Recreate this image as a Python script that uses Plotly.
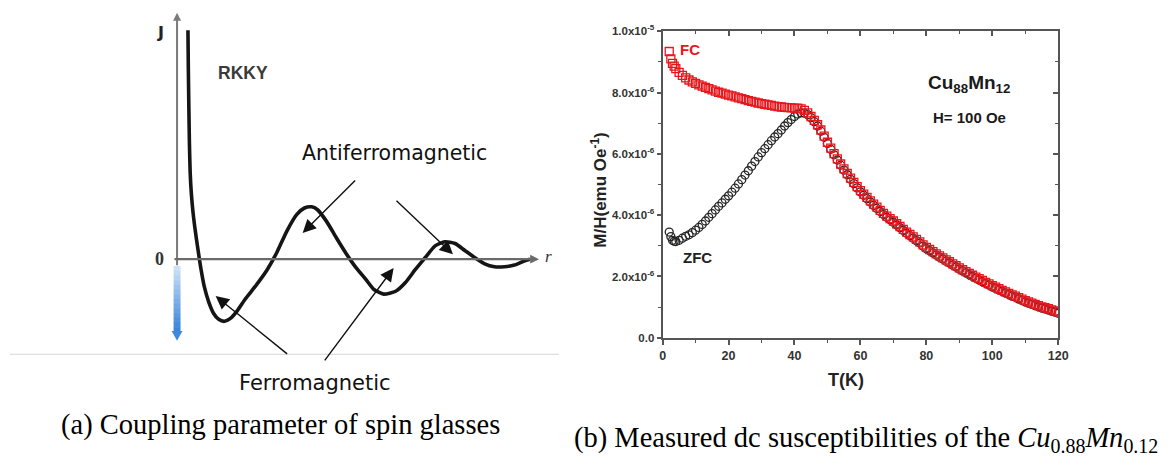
import plotly.graph_objects as go

# ---------------- data ----------------
# (a) schematic RKKY coupling J(r), arbitrary units
r_vals = [0.301, 0.311, 0.325, 0.342, 0.363, 0.396, 0.445, 0.505, 0.574, 0.656, 0.751, 0.874,
          1.011, 1.148, 1.311, 1.475, 1.667, 1.885, 2.16, 2.49, 2.76, 3.03, 3.31, 3.52, 3.72,
          3.88, 4.13, 4.40, 4.67, 4.95, 5.22, 5.44, 5.71, 6.04, 6.31, 6.58, 6.86, 7.13, 7.40,
          7.68, 7.95, 8.22, 8.50, 8.77, 9.04, 9.32, 9.59, 9.75]
j_vals = [3.933, 3.317, 2.650, 1.983, 1.483, 1.117, 0.783, 0.483, 0.183, -0.150, -0.467, -0.733,
          -0.933, -1.033, -1.067, -1.017, -0.883, -0.683, -0.467, -0.18, 0.12, 0.48, 0.77, 0.88,
          0.90, 0.85, 0.65, 0.37, 0.10, -0.15, -0.35, -0.52, -0.60, -0.55, -0.40, -0.18, 0.03,
          0.23, 0.30, 0.27, 0.15, 0.03, -0.08, -0.13, -0.13, -0.10, -0.03, 0.00]

# (b) dc susceptibility M/H of Cu88Mn12, in units of 1e-6 emu/Oe
temp_k = [2, 2.5, 3, 3.5, 4, 5, 6, 7, 8, 9, 10, 11, 12, 13, 14, 15, 16, 17, 18, 19, 20, 21, 22,
          23, 24, 25, 26, 27, 28, 29, 30, 31, 32, 33, 34, 35, 36, 37, 38, 39, 40, 41, 42, 43,
          44, 45, 46, 47, 48, 49, 50, 51, 52, 53, 54, 55, 56, 57, 58, 59, 60, 61, 62, 63, 64,
          65, 66, 67, 68, 69, 70, 71, 72, 73, 74, 75, 76, 77, 78, 79, 80, 81, 82, 83, 84, 85,
          86, 87, 88, 89, 90, 91, 92, 93, 94, 95, 96, 97, 98, 99, 100, 101, 102, 103, 104, 105,
          106, 107, 108, 109, 110, 111, 112, 113, 114, 115, 116, 117, 118, 119, 120]
fc = [9.34, 9.10, 8.95, 8.86, 8.78, 8.66, 8.56, 8.48, 8.41, 8.35, 8.30, 8.25, 8.21, 8.17,
      8.13, 8.09, 8.05, 8.01, 7.98, 7.95, 7.92, 7.89, 7.86, 7.83, 7.80, 7.77, 7.74, 7.71,
      7.69, 7.66, 7.64, 7.62, 7.60, 7.58, 7.56, 7.54, 7.53, 7.52, 7.51, 7.50, 7.49, 7.49,
      7.47, 7.42, 7.34, 7.22, 7.09, 6.95, 6.78, 6.58, 6.38, 6.19, 6.01, 5.84, 5.67, 5.51,
      5.36, 5.21, 5.07, 4.93, 4.80, 4.69, 4.58, 4.47, 4.36, 4.26, 4.16, 4.06, 3.97, 3.89,
      3.81, 3.72, 3.63, 3.54, 3.45, 3.37, 3.29, 3.21, 3.13, 3.03, 2.95, 2.88, 2.81, 2.74,
      2.67, 2.61, 2.54, 2.48, 2.41, 2.35, 2.28, 2.22, 2.16, 2.10, 2.04, 1.98, 1.93, 1.87,
      1.81, 1.76, 1.70, 1.65, 1.60, 1.55, 1.50, 1.45, 1.40, 1.36, 1.31, 1.26, 1.21, 1.17,
      1.13, 1.09, 1.05, 1.01, 0.98, 0.95, 0.91, 0.88, 0.84]
zfc = [3.45, 3.30, 3.18, 3.15, 3.14, 3.18, 3.25, 3.31, 3.36, 3.43, 3.51, 3.60, 3.70, 3.81,
       3.93, 4.05, 4.17, 4.29, 4.40, 4.52, 4.63, 4.75, 4.88, 5.02, 5.16, 5.31, 5.45, 5.60,
       5.75, 5.90, 6.04, 6.17, 6.30, 6.43, 6.55, 6.66, 6.78, 6.91, 7.02, 7.12, 7.22, 7.30,
       7.34, 7.33, 7.28, 7.18, 7.05, 6.91, 6.74, 6.54, 6.34, 6.15, 5.97, 5.80, 5.63, 5.47,
       5.32, 5.17, 5.03, 4.89, 4.76, 4.65, 4.54, 4.43, 4.32, 4.22, 4.12, 4.02, 3.93, 3.85,
       3.77, 3.68, 3.59, 3.50, 3.41, 3.33, 3.25, 3.17, 3.09, 2.99, 2.91, 2.84, 2.77, 2.70,
       2.63, 2.57, 2.50, 2.44, 2.37, 2.31, 2.24, 2.18, 2.12, 2.06, 2.00, 1.94, 1.89, 1.83,
       1.77, 1.72, 1.66, 1.61, 1.56, 1.51, 1.46, 1.41, 1.36, 1.32, 1.27, 1.22, 1.17, 1.13,
       1.09, 1.05, 1.01, 0.97, 0.94, 0.91, 0.87, 0.84, 0.80]

x_ticks = [0, 20, 40, 60, 80, 100, 120]
y_ticks = [0, 2, 4, 6, 8, 10]
y_ticktext = ["0.0", "2.0x10<sup>-6</sup>", "4.0x10<sup>-6</sup>", "6.0x10<sup>-6</sup>",
              "8.0x10<sup>-6</sup>", "1.0x10<sup>-5</sup>"]

# ---------------- layout helpers ----------------
W, H = 1176, 466


def px(x):
    return x / W


def py(y):
    return 1 - y / H


AX = "#555555"
SANS = "Arial, Liberation Sans, sans-serif"
SERIF = "Liberation Serif, Times New Roman, serif"
DEJAVU = "DejaVu Sans, sans-serif"

fig = go.Figure()

# (a) RKKY oscillation curve
fig.add_trace(go.Scatter(
    x=r_vals, y=j_vals, mode="lines", xaxis="x3", yaxis="y3",
    line=dict(color="#151515", width=3.6, shape="spline", smoothing=0.6),
    hoverinfo="skip", showlegend=False))

# (b) ZFC (black circles) under FC (red squares)
fig.add_trace(go.Scatter(
    x=temp_k, y=zfc, mode="markers", name="ZFC", xaxis="x", yaxis="y",
    marker=dict(symbol="circle-open", size=8, color="#262626", line=dict(width=1.3)),
    showlegend=False))
fig.add_trace(go.Scatter(
    x=temp_k, y=fc, mode="markers", name="FC", xaxis="x", yaxis="y",
    marker=dict(symbol="square-open", size=8, color="#e8161c", line=dict(width=1.3)),
    showlegend=False))
# carrier for the mirrored top/right frame axes
fig.add_trace(go.Scatter(x=[], y=[], xaxis="x2", yaxis="y2", showlegend=False))

tickfont = dict(family=SANS, size=12.5, color="#333333", weight="bold")
ytickfont = dict(family=SANS, size=11.5, color="#333333", weight="bold")

fig.update_layout(
    width=W, height=H,
    margin=dict(l=0, r=0, t=0, b=0),
    paper_bgcolor="white", plot_bgcolor="rgba(0,0,0,0)",
    showlegend=False,
    xaxis=dict(domain=[px(667), px(1067)], range=[0, 120], anchor="y",
               showline=True, linecolor=AX, linewidth=2, mirror=False,
               ticks="outside", ticklen=5, tickwidth=1.6, tickcolor=AX,
               tickvals=x_ticks, tickfont=tickfont,
               minor=dict(dtick=10, ticks="outside", ticklen=3, tickwidth=1.4, tickcolor=AX),
               showgrid=False, zeroline=False),
    xaxis2=dict(overlaying="x", side="top", anchor="y2", range=[0, 120],
                showline=True, linecolor=AX, linewidth=2,
                ticks="inside", ticklen=5, tickwidth=1.6, tickcolor=AX,
                tickvals=x_ticks, showticklabels=False,
                minor=dict(dtick=10, ticks="inside", ticklen=3, tickwidth=1.4, tickcolor=AX),
                showgrid=False, zeroline=False),
    yaxis=dict(domain=[py(340), py(24)], range=[0, 10], anchor="x",
               showline=True, linecolor=AX, linewidth=2,
               ticks="outside", ticklen=4, tickwidth=1.6, tickcolor=AX,
               tickvals=y_ticks, ticktext=y_ticktext, tickfont=ytickfont,
               minor=dict(dtick=1, ticks="outside", ticklen=3, tickwidth=1.4, tickcolor=AX),
               showgrid=False, zeroline=False),
    yaxis2=dict(overlaying="y", side="right", anchor="x2", range=[0, 10],
                showline=True, linecolor=AX, linewidth=2,
                ticks="inside", ticklen=5, tickwidth=1.6, tickcolor=AX,
                tickvals=y_ticks, showticklabels=False,
                minor=dict(dtick=1, ticks="inside", ticklen=3, tickwidth=1.4, tickcolor=AX),
                showgrid=False, zeroline=False),
    # schematic axes for panel (a): r=0 at x=176 px, J=0 at y=259 px
    xaxis3=dict(domain=[0, 0.5], range=[-176 / 36.6, (588 - 176) / 36.6], anchor="y3",
                visible=False),
    yaxis3=dict(domain=[0, 1], range=[(259 - 466) / 60, 259 / 60], anchor="x3",
                visible=False),
)

shapes = []
# separator under panel (a)
shapes.append(dict(type="line", xref="paper", yref="paper",
                   x0=px(7), x1=px(562), y0=py(357), y1=py(357),
                   line=dict(color="#d4d4d4", width=1)))
# blue downward arrow below J=0 (vertical gradient)
n_seg = 14
top_c, bot_c = (205, 226, 248), (58, 132, 218)
y_top, y_bot = 266, 334
for i in range(n_seg):
    f = i / (n_seg - 1)
    c = tuple(int(top_c[k] + (bot_c[k] - top_c[k]) * f) for k in range(3))
    y0 = y_top + (y_bot - y_top) * i / n_seg
    y1 = y_top + (y_bot - y_top) * (i + 1) / n_seg
    shapes.append(dict(type="rect", xref="paper", yref="paper",
                       x0=px(172.5), x1=px(179.5), y0=py(y1 + 0.5), y1=py(y0),
                       fillcolor="rgb(%d,%d,%d)" % c, line=dict(width=0)))
shapes.append(dict(type="path", xref="paper", yref="paper",
                   path="M %f,%f L %f,%f L %f,%f Z" % (px(170.5), py(333), px(181.5), py(333),
                                                      px(176), py(343)),
                   fillcolor="rgb(64,136,218)", line=dict(width=0)))
fig.update_layout(shapes=shapes)

ann = []


def arrow(x_head, y_head, x_tail, y_tail, color="#111111", width=1.4, head=2, size=1.9):
    ann.append(dict(x=px(x_head), y=py(y_head), xref="paper", yref="paper",
                    ax=x_tail - x_head, ay=y_tail - y_head, text="", showarrow=True,
                    arrowhead=head, arrowsize=size, arrowwidth=width, arrowcolor=color,
                    standoff=0, startstandoff=0))


def label(x, y, text, size, family=SANS, color="#111111", xanchor="center", angle=0):
    ann.append(dict(x=px(x), y=py(y), xref="paper", yref="paper", text=text,
                    showarrow=False, xanchor=xanchor, yanchor="middle", textangle=angle,
                    font=dict(family=family, size=size, color=color)))


# schematic axes of panel (a)
arrow(176, 5, 176, 259, color="#7a7a7a", width=2, head=2, size=0.8)
arrow(542, 259, 176, 259, color="#6a6a6a", width=2.2, head=2, size=0.8)

# pointer arrows
arrow(303, 232, 357, 178)
arrow(455, 254, 397, 199)
arrow(215, 297, 288, 356)
arrow(395, 268, 325, 362)

label(159, 25, "<b>J</b>", 16, family=DEJAVU, color="#222222")
label(158, 259, "<b>0</b>", 18, family=SERIF, color="#333333")
label(552, 256, "<i>r</i>", 17, family=SERIF, color="#333333")
label(243, 67, "<b>RKKY</b>", 17.5, color="#3a3a3a")
label(396, 149, "Antiferromagnetic", 20.5, family=DEJAVU, color="#111111")
label(315, 387, "Ferromagnetic", 21, family=DEJAVU, color="#111111")

# panel (b) labels
label(695, 43, "<b>FC</b>", 15, color="#e8161c")
label(702, 257, "<b>ZFC</b>", 15, color="#222222")
label(977, 78, "<b>Cu<sub>88</sub>Mn<sub>12</sub></b>", 19, color="#1a1a1a")
label(977, 113, "<b>H= 100 Oe</b>", 15, color="#1a1a1a")
label(852, 384, "<b>T(K)</b>", 18, color="#222222")
label(603, 188, "<b>M/H(emu Oe<sup>-1</sup>)</b>", 17, color="#222222", angle=-90)

# captions
label(57, 430, "(a) Coupling parameter of spin glasses", 28.5, family=SERIF,
      color="#000000", xanchor="left")
label(575, 445, "(b) Measured dc susceptibilities of the <i>Cu</i><sub>0.88</sub>"
      "<i>Mn</i><sub>0.12</sub>", 28.5, family=SERIF, color="#000000", xanchor="left")

fig.update_layout(annotations=ann)

fig.write_html("out.html")
